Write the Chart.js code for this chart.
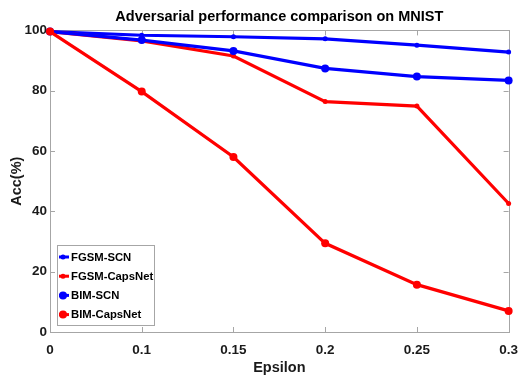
<!DOCTYPE html>
<html><head><meta charset="utf-8">
<script src="https://cdn.jsdelivr.net/npm/chart.js@4.4.1/dist/chart.umd.min.js"></script>
<style>html,body{margin:0;padding:0;background:#fff}#wrap{width:528px;height:379px}</style>
</head><body><div id="wrap"><canvas id="c" width="528" height="379"></canvas></div>
<script>
const epsilonLabels = ['0', '0.1', '0.15', '0.2', '0.25', '0.3'];
const fgsmSCN = [99.6, 98.4, 97.9, 97.2, 95.1, 92.8];
const fgsmCapsNet = [99.6, 96.5, 91.5, 76.4, 74.9, 42.6];
const bimSCN = [99.6, 96.8, 93.2, 87.4, 84.7, 83.4];
const bimCapsNet = [99.6, 79.7, 58.0, 29.4, 15.7, 7.0];
const yTicks = [0, 20, 40, 60, 80, 100];
const seriesNames = ['FGSM-SCN', 'FGSM-CapsNet', 'BIM-SCN', 'BIM-CapsNet'];

// font detection
const mc = document.createElement('canvas').getContext('2d');
mc.font = "bold 20px 'Liberation Sans Narrow'"; const wN = mc.measureText('Adversarial MNIST').width;
mc.font = "bold 20px 'Liberation Sans'"; const wR = mc.measureText('Adversarial MNIST').width;
const narrow = wN / wR < 0.9;
const FAM = narrow ? "'Liberation Sans Narrow', 'Liberation Sans', Arial, sans-serif" : "'Liberation Sans', Arial, sans-serif";
const S = narrow ? {title:16.5, tick:15, axis:16, legend:13.5} : {title:14.5, tick:13.5, axis:14.5, legend:11.3};

const BLUE = '#0000ff', RED = '#ff0000', FRAME = '#a6a6a6';

const frame = {
  id: 'frame',
  beforeDatasetsDraw(chart) {
    const {ctx, chartArea: a, scales} = chart;
    ctx.save();
    ctx.strokeStyle = FRAME; ctx.lineWidth = 1;
    ctx.strokeRect(Math.round(a.left) + 0.5, Math.round(a.top) + 0.5, Math.round(a.right - a.left), Math.round(a.bottom - a.top));
    ctx.beginPath();
    const tl = 5;
    scales.x.ticks.forEach((t, i) => {
      const x = Math.round(scales.x.getPixelForTick(i)) + 0.5;
      ctx.moveTo(x, a.bottom); ctx.lineTo(x, a.bottom - tl);
      ctx.moveTo(x, a.top); ctx.lineTo(x, a.top + tl);
    });
    scales.y.ticks.forEach((t, i) => {
      const y = Math.round(scales.y.getPixelForTick(i)) + 0.5;
      ctx.moveTo(a.left, y); ctx.lineTo(a.left + tl, y);
      ctx.moveTo(a.right, y); ctx.lineTo(a.right - tl, y);
    });
    ctx.stroke();
    ctx.restore();
  },
  afterDatasetsDraw(chart) {
    const {ctx, chartArea: a} = chart;
    const x0 = a.left + 7, w = 97, h = 80, y0 = a.bottom - 7 - h;
    ctx.save();
    ctx.fillStyle = '#fff'; ctx.fillRect(x0, y0, w, h);
    ctx.strokeStyle = FRAME; ctx.lineWidth = 1;
    ctx.strokeRect(Math.round(x0) + 0.5, Math.round(y0) + 0.5, w, h);
    ctx.font = 'bold ' + S.legend + 'px ' + FAM;
    ctx.textBaseline = 'middle'; ctx.textAlign = 'left';
    chart.data.datasets.forEach((ds, i) => {
      const y = y0 + 12 + i * 19.2;
      ctx.strokeStyle = ds.borderColor; ctx.lineWidth = 3;
      ctx.beginPath(); ctx.moveTo(x0 + 2, y); ctx.lineTo(x0 + 12, y); ctx.stroke();
      ctx.fillStyle = ds.borderColor;
      ctx.beginPath(); ctx.arc(x0 + 6, y, ds.pointRadius, 0, Math.PI * 2); ctx.fill();
      ctx.fillStyle = '#000';
      ctx.fillText(ds.label, x0 + 14, y + 0.5);
    });
    ctx.restore();
  }
};

const mk = (label, data, color, r, order) => ({
  label, data, borderColor: color, backgroundColor: color, borderWidth: 3.2,
  pointRadius: r, pointHoverRadius: r, pointBorderWidth: 0, pointBackgroundColor: color,
  tension: 0, clip: false, order
});

new Chart(document.getElementById('c'), {
  type: 'line',
  data: {
    labels: epsilonLabels,
    datasets: [
      mk(seriesNames[0], fgsmSCN, BLUE, 2.5, 3),
      mk(seriesNames[1], fgsmCapsNet, RED, 2.5, 2),
      mk(seriesNames[2], bimSCN, BLUE, 4, 1),
      mk(seriesNames[3], bimCapsNet, RED, 4, 0)
    ]
  },
  plugins: [frame],
  options: {
    responsive: false, animation: false,
    layout: {padding: {left: 0, right: 9, top: 0, bottom: 0}},
    plugins: {
      legend: {display: false}, tooltip: {enabled: false},
      title: {display: true, fullSize: false, text: 'Adversarial performance comparison on MNIST',
        color: '#000', font: {family: FAM, size: S.title, weight: 'bold', lineHeight: 1.2},
        padding: {top: 8, bottom: 5}}
    },
    scales: {
      x: {
        type: 'category', offset: false,
        grid: {display: false, drawTicks: false}, border: {display: false},
        ticks: {color: '#1a1a1a', padding: 10, maxRotation: 0, autoSkip: false, font: {family: FAM, size: S.tick, weight: 'bold'}},
        title: {display: true, text: 'Epsilon', color: '#1a1a1a', font: {family: FAM, size: S.axis, weight: 'bold'}, padding: {top: 0, bottom: 2}},
        afterFit(s) { s.height = 47; }
      },
      y: {
        min: 0, max: 100,
        afterBuildTicks(s) { s.ticks = yTicks.map(v => ({value: v})); },
        grid: {display: false, drawTicks: false}, border: {display: false},
        ticks: {color: '#1a1a1a', padding: 3, font: {family: FAM, size: S.tick, weight: 'bold'}},
        title: {display: true, text: 'Acc(%)', color: '#1a1a1a', font: {family: FAM, size: S.axis, weight: 'bold'}, padding: {top: 8, bottom: 0}},
        afterFit(s) { s.width = 50; }
      }
    }
  }
});
</script></body></html>
